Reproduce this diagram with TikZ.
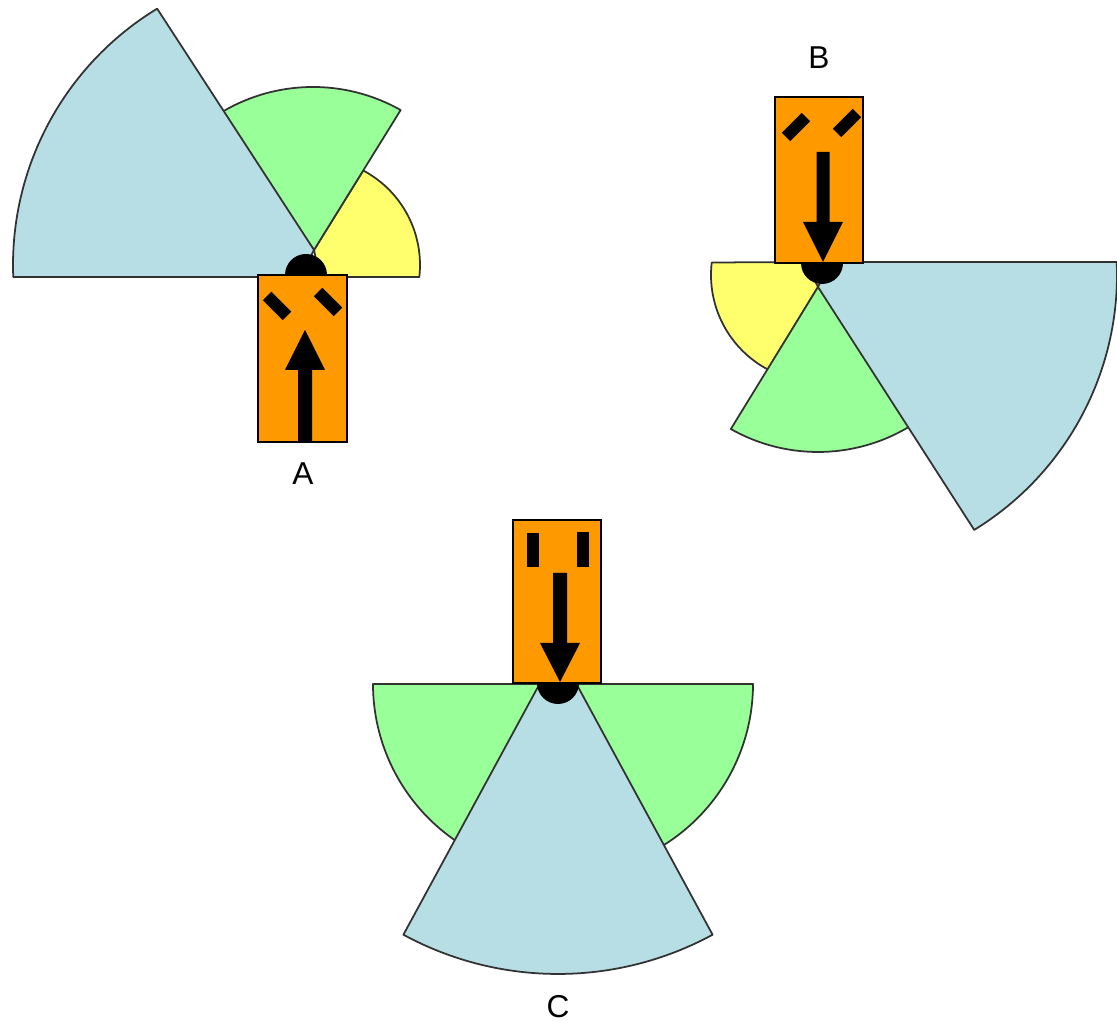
\documentclass[tikz,border=0pt]{standalone}
\usepackage{fontspec}
\setmainfont{Liberation Sans}
\usetikzlibrary{calc}
\definecolor{sblue}{RGB}{183,222,228}
\definecolor{sgreen}{RGB}{153,255,153}
\definecolor{syellow}{RGB}{255,255,110}
\definecolor{sorange}{RGB}{255,153,0}
\definecolor{edgecol}{RGB}{50,50,50}
\begin{document}
\begin{tikzpicture}[x=0.02cm,y=0.02cm,
  sector/.style={draw=edgecol,line width=1pt,line join=round},
  body/.style={fill=sorange,draw=black,line width=0.8pt},
  eyebar/.style={fill=black},
  head/.style={fill=black},
  lbl/.style={font=\fontsize{18}{20}\selectfont,inner sep=0pt}]
\clip (0,0) rectangle (1117,1027);
\fill[white] (0,0) rectangle (1117,1027);
% ---------------- Robot A ----------------
\coordinate (CA) at (313,762);
\coordinate (PA) at (314,777);
\filldraw[sector,fill=syellow] (320,750) -- ($(CA)+(-6.5:107)$) arc[start angle=-6.5,end angle=62,radius=107] -- (PA) -- cycle;
\filldraw[sector,fill=sgreen] (PA) -- ($(CA)+(60.5:178)$) arc[start angle=60.5,end angle=123,radius=178] -- cycle;
\filldraw[sector,fill=sblue] (PA) -- ($(CA)+(121.3:300)$) arc[start angle=121.3,end angle=182.3,radius=300] -- (300,750) -- cycle;
\coordinate (HA) at (306,752);
\fill[head] (HA) circle[radius=21];
\draw[body] (258,585) rectangle (347,752);
\fill[eyebar,rotate around={-45:(277,721)}] (263,715) rectangle (291,727);
\fill[eyebar,rotate around={-45:(328,725)}] (314,719) rectangle (342,731);
\fill (298,585) -- (312,585) -- (312,657) -- (325,657) -- (305,697) -- (285,657) -- (298,657) -- cycle;
\node[lbl] (labA) at (303,553) {A};
% ---------------- Robot B ----------------
\coordinate (CB) at (818,752);
\coordinate (PB) at (818,740);
\filldraw[sector,fill=syellow] (806,765) -- ($(CB)+(173.3:107)$) arc[start angle=173.3,end angle=242,radius=107] -- (PB) -- cycle;
\filldraw[sector,fill=sgreen] (PB) -- ($(CB)+(240.5:177)$) arc[start angle=240.5,end angle=303,radius=177] -- cycle;
\filldraw[sector,fill=sblue] (PB) -- ($(CB)+(-58.5:299)$) arc[start angle=-58.5,end angle=2.5,radius=299] -- (830,765) -- cycle;
\coordinate (HB) at (822,764);
\fill[head] (HB) circle[radius=21];
\draw[body] (775,764) rectangle (863,930);
\fill[eyebar,rotate around={45:(796,900)}] (782,894) rectangle (810,906);
\fill[eyebar,rotate around={45:(847,904)}] (833,898) rectangle (861,910);
\fill (816.5,875) -- (829.5,875) -- (829.5,805) -- (843,805) -- (823,765) -- (803,805) -- (816.5,805) -- cycle;
\node[lbl] (labB) at (819,969) {B};
% ---------------- Robot C ----------------
\coordinate (CC) at (558,377);
\coordinate (GC) at (563,343);
\filldraw[sector,fill=sgreen] (GC) -- ($(GC)+(180:190)$) arc[start angle=180,end angle=240,radius=190] -- cycle;
\filldraw[sector,fill=sgreen] (GC) -- ($(GC)+(0:190)$) arc[start angle=0,end angle=-62,radius=190] -- cycle;
\filldraw[sector,fill=sblue] (CC) -- ($(CC)+(241.5:324)$) arc[start angle=241.5,end angle=298.5,radius=324] -- cycle;
\coordinate (HC) at (558,344);
\fill[head] (HC) circle[radius=21];
\draw[body] (513,344) rectangle (601,507);
\fill[eyebar] (527,460) rectangle (539,494);
\fill[eyebar] (577,460) rectangle (589,495);
\fill (553,454) -- (567,454) -- (567,384) -- (580,384) -- (560,345) -- (540,384) -- (553,384) -- cycle;
\node[lbl] (labC) at (558,20) {C};
\end{tikzpicture}
\end{document}
